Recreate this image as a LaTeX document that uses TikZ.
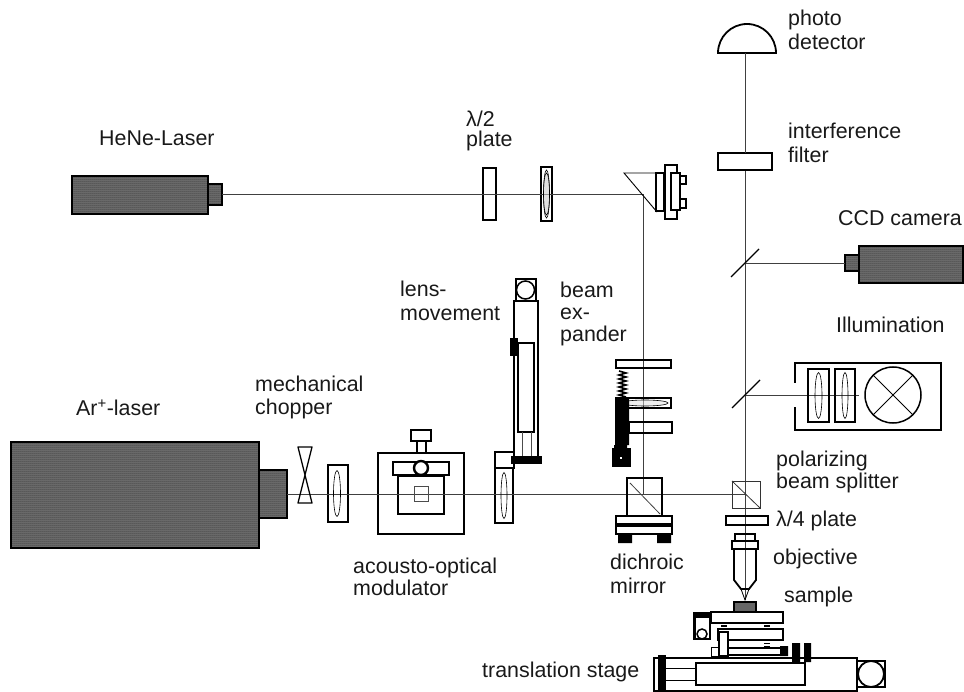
\documentclass[tikz,border=0pt]{standalone}
\usepackage{fontspec}
\setmainfont{Liberation Sans}
\usetikzlibrary{patterns.meta}
\tikzset{
  beam/.style={line width=0.9pt,black!75},
  thick box/.style={draw=black,line width=2.4pt,fill=white},
  thin box/.style={draw=black,line width=1.2pt,fill=white},
  solid block/.style={draw=black,fill=black,line width=0.5pt},
  laser body/.style={draw=black,line width=2.2pt,fill=black!55,postaction={pattern={Dots[distance=2pt,radius=0.5pt]},pattern color=black}},
  lens ellipse/.style={draw=black,line width=0.6pt},
  label/.style={font=\fontsize{21.4}{22}\selectfont,align=left,anchor=base west,inner sep=0pt,text=black!90},
  wide label/.style={label,font=\fontsize{21.4}{24}\selectfont},
  narrow label/.style={label,font=\fontsize{21.4}{20}\selectfont},
}
\newcommand{\lensbox}[5]{% x1 y1 x2 y2 width factor
  \draw[thick box] (#1,#2) rectangle (#3,#4);
  \draw[lens ellipse] ({(#1+#3)/2},{(#2+#4)/2}) ellipse [x radius=#5,y radius={(#4-#2)/2-3}];
}
\begin{document}
\begin{tikzpicture}[x=1pt,y=-1pt]
\useasboundingbox (0,0) rectangle (964,692);
% beam coordinates
\coordinate (heneout) at (222,194);
\coordinate (foldmirror) at (643,194);
\coordinate (dichroic) at (643,494);
\coordinate (arout) at (287,494);
\coordinate (pbs) at (745,494);
\coordinate (detector) at (745,53);
\coordinate (focus) at (745,600);
\coordinate (ccdtap) at (745,263);
\coordinate (ccdin) at (845,263);
\coordinate (illumtap) at (745,395);
\coordinate (illumin) at (859,395);
% HeNe laser
\draw[laser body] (72,176) rectangle (208,214);
\draw[laser body] (208,184) rectangle (222,205);
% Ar laser
\draw[laser body] (11,442) rectangle (259,548);
\draw[laser body] (259,470) rectangle (287,518);
% CCD
\draw[laser body] (859,246) rectangle (963,283);
\draw[laser body,line width=1.5pt] (845,255) rectangle (859,271);
% Beams behind optics
\draw[thick box,line width=1.8pt] (483,168) rectangle (496,220);
\lensbox{541}{167}{552}{221}{3}
\draw[thick box] (328,465) rectangle (348,522);
\draw[thick box] (495,452) rectangle (514,468);
\draw[thick box] (495,468) rectangle (513,523);
% AOM
\draw[thick box] (378,453) rectangle (464,534);
\draw[thick box] (417,441) rectangle (426,453);
\draw[thick box] (411,430) rectangle (431,441);
\draw[thick box] (398,476) rectangle (444,514);
\draw[thick box] (393,462) rectangle (449,475);
\draw[thick box] (421,468) circle (7);
% Beams
\draw[beam] (heneout) -- (foldmirror) -- (dichroic);
\draw[beam] (arout) -- (pbs);
\draw[beam] (detector) -- (focus);
\draw[beam] (ccdtap) -- (ccdin);
\draw[beam] (illumtap) -- (illumin);
% lens outlines over beams
\draw[lens ellipse] (337,493.5) ellipse [x radius=3.5,y radius=23];
\draw[lens ellipse] (504,495.5) ellipse [x radius=3,y radius=23];
\draw[lens ellipse,fill=black!20,fill opacity=0.6] (546.5,194) ellipse [x radius=3,y radius=21];
\draw[draw=black!70,line width=0.7pt] (414,486) rectangle (428,501);
% chopper
\draw[draw=black,line width=1.3pt,line join=round] (298,447) -- (312,447) -- (298,503) -- (312,503) -- cycle;
% fold mirror and mount
\draw[black,line width=0.9pt] (656,173) -- (624,173) -- (657,212);
\draw[thick box] (656,173) rectangle (664,211);
\draw[thick box] (665,165) rectangle (677,219);
\draw[thick box] (671,173) rectangle (680,210);
\draw[thick box,line width=1.8pt] (680,176) rectangle (686,184);
\draw[thick box,line width=1.8pt] (680,199) rectangle (686,208);
% lens movement
\draw[draw=black,line width=1.5pt] (516,279) rectangle (536,301);
\draw[draw=black,line width=1.5pt,fill=white] (525.5,290) circle (9);
\draw[draw=black,line width=1.3pt,fill=white] (514,301) rectangle (538,463);
\draw[draw=black,line width=1.3pt,fill=white] (518,343) rectangle (534,432);
\draw[black!70,line width=0.7pt] (522,432) -- (522,456) (531,432) -- (531,456);
\draw[solid block] (510,338) rectangle (517,355);
\draw[solid block] (511,456) rectangle (541,463);
% beam expander
\draw[draw=black,line width=2pt] (616,360) rectangle (671,368);
\draw[line width=1.6pt,black] (619,371) -- (626,373) -- (619,375) -- (626,377) -- (619,379) -- (626,381) -- (619,383) -- (626,385) -- (619,387) -- (626,389) -- (619,391) -- (626,393) -- (619,395) -- (626,397);
\draw[draw=black,line width=2pt] (616,398) rectangle (671,408);
\draw[lens ellipse,fill=black!12,fill opacity=0.5] (645,403) ellipse [x radius=23,y radius=3];
\draw[draw=black,line width=2pt] (629,422) rectangle (672,433);
\fill[black] (615,398) rectangle (629,445) (614,445) rectangle (627,450);
\fill[black] (612,448) rectangle (631,467);
\fill[white] (620,456.5) rectangle (622,458.5);
% dichroic mirror
\draw[draw=black,line width=1.5pt] (627,478) rectangle (662,516);
\draw[draw=black!75,line width=0.8pt] (630,483) -- (660,514);
\draw[draw=black,line width=2.2pt] (616,516) rectangle (672,524);
\draw[draw=black,line width=2.2pt] (616,526) rectangle (672,534);
\fill[black] (618,535) rectangle (632,543) (657,535) rectangle (671,543);
% interference filter and detector
\draw[draw=black,line width=1.8pt,fill=white] (718,153) rectangle (772,170);
\draw[draw=black,line width=1.8pt,fill=white] (718,53) arc[start angle=180,end angle=360,radius=29] -- cycle;
\draw[beam] (detector) -- (745,153);
% tap mirrors
\draw[black,line width=1.3pt] (731,277) -- (759,249);
\draw[black,line width=1.3pt] (732,408) -- (760,380);
% illumination
\draw[black,line width=1.8pt] (795,383) -- (795,363) -- (941,363) -- (941,430) -- (795,430) -- (795,407);
\draw[draw=black,line width=1.8pt] (808,369) rectangle (829,422);
\draw[lens ellipse] (818.5,395.5) ellipse [x radius=3.5,y radius=23];
\draw[draw=black,line width=1.8pt] (835,369) rectangle (855,422);
\draw[lens ellipse] (845,395.5) ellipse [x radius=3,y radius=23];
\draw[draw=black,line width=1.5pt] (893,395) circle (28);
\draw[black,line width=1pt] (873,375) -- (913,415) (873,415) -- (913,375);
% polarizing beam splitter
\draw[draw=black!80,line width=0.8pt] (732,481) rectangle (760,508);
\draw[draw=black!80,line width=0.8pt] (732,481) -- (760,508);
% lambda/4
\draw[draw=black,line width=1.5pt] (726,516) rectangle (768,525);
% objective
\draw[draw=black,line width=1.8pt] (735,541) -- (735,534) -- (755,534) -- (755,541);
\draw[draw=black,line width=1.8pt] (732,541) rectangle (758,549);
\draw[draw=black,line width=1.8pt] (734,549) -- (734,580) -- (741,589) -- (749,589) -- (756,580) -- (756,549);
\draw[black,line width=0.8pt] (741,589) -- (745,600) -- (749,589);
% sample
\draw[draw=black,line width=1.2pt,fill=black!60] (734,602) rectangle (756,612);
% stage
\draw[draw=black,line width=1.2pt] (711,612) rectangle (783,623);
\draw[draw=black,line width=1.2pt] (718,629) rectangle (783,640);
\draw[draw=black,line width=2.8pt] (694.5,613.5) rectangle (710,639);
\fill[black] (694,613) rectangle (711,618);
\draw[draw=black,line width=1.5pt,fill=white] (702,634) circle (5);
\foreach \sx/\sy in {724/626,767/626,767/643.5}{
  \draw[black,line width=1.2pt] (\sx-3,\sy-3) -- (\sx+3,\sy-3) (\sx-3,\sy) -- (\sx+3,\sy) (\sx-3,\sy+3) -- (\sx+3,\sy+3);
}
\draw[draw=black,line width=1pt] (711,647) rectangle (719,656);
\draw[draw=black,line width=1.6pt] (728,648) rectangle (781,655);
\draw[draw=black,line width=1.8pt,fill=white] (719,632) rectangle (728,656);
\fill[black] (780,646) rectangle (788,656) (792,643) rectangle (800,663) (804,643) rectangle (811,662);
\draw[draw=black,line width=1.8pt] (654,658) rectangle (857,691);
\fill[black] (658,655) rectangle (666,691);
\draw[draw=black,line width=1.8pt] (696,663) rectangle (805,685);
\draw[black,line width=0.8pt] (666,668) -- (696,668) (666,680) -- (696,680);
\draw[draw=black,line width=1.2pt] (857,661) rectangle (885,687);
\draw[draw=black,line width=1.8pt,fill=white] (871,674) circle (13);
% labels
\node[label] (lhene) at (99,146) {HeNe-Laser};
\node[narrow label] (llam2) at (466,147) {λ/2\\plate};
\node[wide label] (lphoto) at (788,50) {photo\\detector};
\node[wide label] (lfilter) at (788,163) {interference\\filter};
\node[label] (lccd) at (838,226) {CCD camera};
\node[label] (lillum) at (836,333) {Illumination};
\node[wide label] (lmove) at (400,321) {lens-\\movement};
\node[label] (lbeam) at (560,342) {beam\\ex-\\pander};
\node[label] (lchop) at (255,414) {mechanical\\chopper};
\node[label] (lar) at (76,416) {Ar\textsuperscript{+}-laser};
\node[label] (laom) at (353,595) {acousto-optical\\modulator};
\node[wide label] (ldich) at (610,593) {dichroic\\mirror};
\node[label] (lpbs) at (776,488) {polarizing\\beam splitter};
\node[label] (llam4) at (776,526) {λ/4 plate};
\node[label] (lobj) at (773,564) {objective};
\node[label] (lsample) at (784,602) {sample};
\node[label] (ltrans) at (482,677) {translation stage};
\end{tikzpicture}
\end{document}
